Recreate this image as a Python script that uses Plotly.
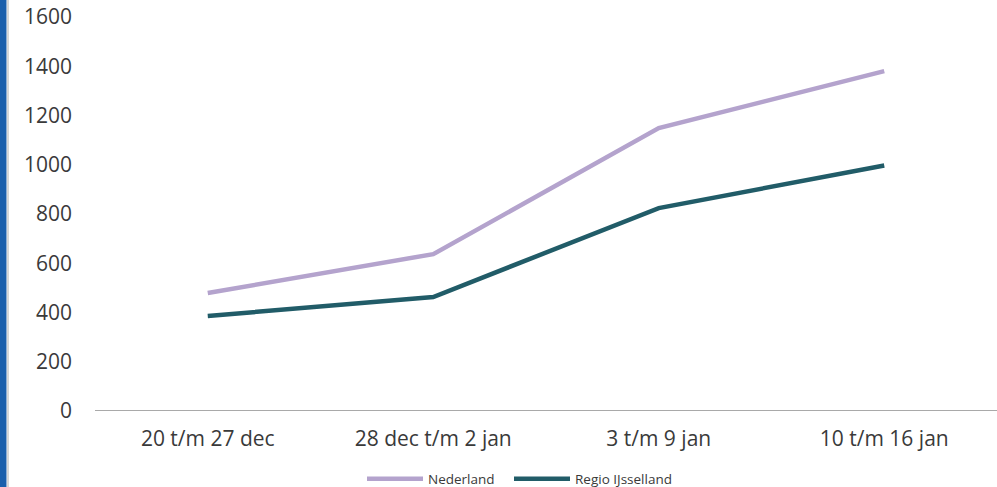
import plotly.graph_objects as go

categories = ["20 t/m 27 dec", "28 dec t/m 2 jan", "3 t/m 9 jan", "10 t/m 16 jan"]
nederland = [479, 637, 1149, 1380]
regio_ijsselland = [386, 463, 824, 997]
y_ticks = [0, 200, 400, 600, 800, 1000, 1200, 1400, 1600]

fig = go.Figure()
fig.add_trace(go.Scatter(x=categories, y=nederland, mode="lines", name="Nederland",
                         line=dict(color="#b4a3cd", width=4.5), legend="legend"))
fig.add_trace(go.Scatter(x=categories, y=regio_ijsselland, mode="lines", name="Regio IJsselland",
                         line=dict(color="#215c68", width=4.5), legend="legend2"))

W, H = 997, 487
ml, mr, mt, mb = 95, 0, 17, 76
pw = W - ml - mr
ph = H - mt - mb

legend_style = dict(orientation="h", xref="container", yref="container",
                    xanchor="left", y=(H - 479) / H, yanchor="middle",
                    font=dict(size=13.5, color="#3a3a3a"), itemwidth=56,
                    bgcolor="rgba(0,0,0,0)")

fig.update_layout(
    width=W, height=H,
    margin=dict(l=ml, r=mr, t=mt, b=mb, autoexpand=False),
    paper_bgcolor="white", plot_bgcolor="white",
    font=dict(family="Open Sans, Liberation Sans, sans-serif", color="#3a3a3a"),
    xaxis=dict(range=[-0.5, 3.5], showgrid=False, zeroline=False, showline=False,
               ticks="", ticklabelstandoff=13,
               tickfont=dict(size=21, color="#3a3a3a"), fixedrange=True),
    yaxis=dict(range=[0, 1600], tickvals=y_ticks, showgrid=False, zeroline=False,
               showline=False, ticks="", ticklabelstandoff=22,
               tickfont=dict(size=21, color="#3a3a3a")),
    legend=dict(x=362 / W, **legend_style),
    legend2=dict(x=509 / W, **legend_style),
    showlegend=True,
    shapes=[
        dict(type="line", xref="paper", yref="y", x0=0, x1=1, y0=0, y1=0,
             line=dict(color="#8c8c8c", width=1.5)),
        dict(type="rect", xref="paper", yref="paper", x0=-ml / pw, x1=-(ml - 6.5) / pw,
             y0=-mb / ph - 0.05, y1=1 + mt / ph + 0.05,
             fillcolor="#1a5fac", line=dict(width=0), layer="above"),
        dict(type="line", xref="paper", yref="paper", x0=-(ml - 8) / pw, x1=-(ml - 8) / pw,
             y0=-mb / ph - 0.05, y1=1 + mt / ph + 0.05,
             line=dict(color="#b0b0b0", width=1)),
    ],
)

fig.write_html("out.html", config={"displayModeBar": False},
               post_script="document.body.style.margin='0';document.body.style.padding='0';")
